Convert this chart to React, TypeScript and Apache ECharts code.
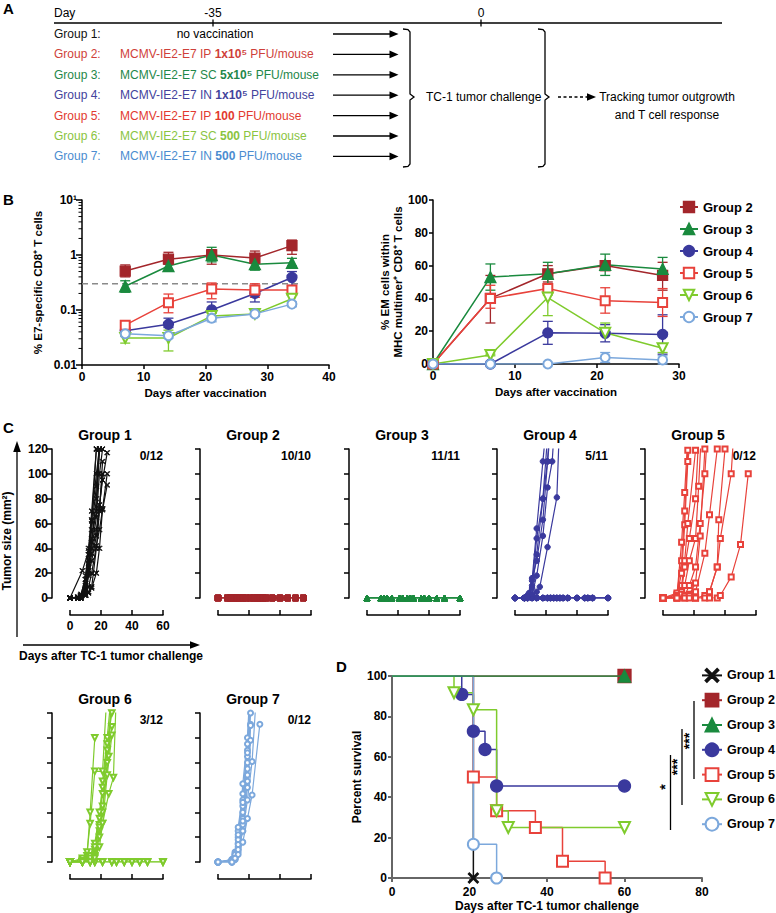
import React, { useEffect, useRef } from "react";
import * as echarts from "echarts";

const FONT = '"Liberation Sans", Arial, Helvetica, sans-serif';

const GROUP_NAMES = ["Group 1", "Group 2", "Group 3", "Group 4", "Group 5", "Group 6", "Group 7"];
const MARK_COLORS = ["#111111", "#a3262b", "#1a8a3e", "#3a399d", "#e8423b", "#7fcb2d", "#7ca8dc"];
const TEXT_COLORS = ["#111111", "#cf3f3a", "#1f874a", "#43439c", "#e23a30", "#8ac43f", "#4b8cd0"];

// ---------- Panel A ----------
const A_TIMELINE_TICKS = ["-35", "0"];
const A_ROUTES = ["", "IP", "SC", "IN", "IP", "SC", "IN"];
const A_DOSES = ["", "1x10⁵", "5x10⁵", "1x10⁵", "100", "500", "500"];

// ---------- Panel B (left): % E7-specific CD8+ T cells, [mean, low, high] ----------
const B1_DAYS = [7, 14, 21, 28, 34];
const B1_G2 = [[0.51, 0.4, 0.66], [0.84, 0.68, 1.12], [1.0, 0.68, 1.25], [0.88, 0.7, 1.18], [1.48, 1.03, 1.87]];
const B1_G3 = [[0.27, 0.21, 0.34], [0.63, 0.52, 0.75], [1.0, 0.75, 1.38], [0.68, 0.53, 0.81], [0.72, 0.63, 0.87]];
const B1_G4 = [[0.042, 0.038, 0.048], [0.055, 0.048, 0.071], [0.1, 0.071, 0.14], [0.2, 0.14, 0.28], [0.39, 0.28, 0.5]];
const B1_G5 = [[0.053, 0.048, 0.06], [0.136, 0.089, 0.195], [0.24, 0.16, 0.31], [0.23, 0.17, 0.3], [0.23, 0.2, 0.26]];
const B1_G6 = [[0.031, 0.025, 0.034], [0.031, 0.018, 0.043], [0.078, 0.071, 0.087], [0.085, 0.078, 0.093], [0.16, 0.136, 0.19]];
const B1_G7 = [[0.037, 0.033, 0.04], [0.034, 0.031, 0.038], [0.071, 0.061, 0.078], [0.085, 0.078, 0.089], [0.128, 0.115, 0.14]];
const B1_THRESHOLD = 0.3;
const B1_THRESHOLD_SPAN = [0, 35];
const B1_MINOR_TICKS = [0.02, 0.03, 0.04, 0.05, 0.06, 0.07, 0.08, 0.09, 0.2, 0.3, 0.4, 0.5, 0.6, 0.7, 0.8, 0.9, 2, 3, 4, 5, 6, 7, 8, 9];
const B1_Y_LABELS = { 10: "10¹", 1: "1", 0.1: "0.1", 0.01: "0.01" };

// ---------- Panel B (right): % EM cells, [mean, low, high] ----------
const B2_DAYS = [0, 7, 14, 21, 28];
const B2_G2 = [[0, 0, 0], [40, 25, 54], [55, 50, 60], [60, 57, 63], [54, 45, 62]];
const B2_G3 = [[0, 0, 0], [53, 45, 61], [55, 48, 62], [60.5, 54, 67], [58, 52, 65]];
const B2_G4 = [[0, 0, 0], [0, 0, 0], [19, 12, 26], [18.7, 13.5, 24], [18, 6, 30]];
const B2_G5 = [[0, 0, 0], [40, 34, 48], [46, 44, 48], [38.5, 31, 46.5], [37.5, 29, 46]];
const B2_G6 = [[0, 0, 0], [5.5, 5, 6], [40.5, 29.5, 42], [19, 18, 25], [9.6, 7, 12]];
const B2_G7 = [[0, 0, 0], [0, 0, 0], [0, 0, 0], [4, 1, 7], [2.5, 0, 5]];

// ---------- Panel C: individual tumor growth, [day, mm²] ----------
const C_G1_MICE = [
  [[0, 0], [8, 22], [12, 38], [14, 62], [17, 120]],
  [[0, 0], [5, 0], [7, 1], [10, 10], [12, 30], [14, 55], [17, 90], [19, 125]],
  [[0, 0], [5, 0], [7, 3], [10, 15], [12, 35], [14, 63], [17, 100], [19, 120]],
  [[0, 0], [5, 0], [7, 0], [10, 8], [12, 25], [14, 48], [17, 70], [19, 120]],
  [[0, 0], [5, 0], [7, 2], [10, 12], [12, 28], [14, 40], [17, 65], [19, 100], [21, 120]],
  [[0, 0], [5, 1], [7, 2], [10, 5], [12, 20], [14, 36], [17, 55], [19, 75], [21, 95], [24, 117]],
  [[0, 0], [5, 0], [7, 0], [10, 3], [12, 18], [14, 30], [17, 50], [19, 72], [21, 100]],
  [[0, 0], [5, 0], [7, 1], [10, 4], [12, 9], [14, 20], [17, 42], [19, 55], [21, 71], [24, 91]],
  [[0, 0], [5, 0], [7, 0], [10, 2], [12, 5], [14, 9], [17, 40], [19, 70], [21, 110]],
  [[0, 0], [5, 0], [7, 0], [10, 6], [12, 22], [14, 45], [17, 80], [19, 120]],
  [[0, 0], [5, 0], [7, 1], [10, 18], [12, 40], [14, 70], [17, 120]],
  [[0, 0], [7, 0], [10, 2], [12, 4], [14, 8], [17, 20], [19, 40], [21, 72], [24, 100]],
];
const C_G2_DAYS = [0, 6, 8, 10, 12, 14, 16, 18, 21, 23, 25, 27, 29, 31, 35, 40, 45, 50, 55];
const C_G2_SIZES = [0, 0, 0, 0, 0, 0, 0, 0, 0, 0, 0, 0, 0, 0, 0, 0, 0, 0, 0];
const C_G2_COUNT = 10;
const C_G3_DAYS = [0, 9, 11, 13, 16, 21, 23, 26, 28, 30, 35, 37, 40, 45, 50, 60];
const C_G3_SIZES = [0, 0, 0, 0, 0, 0, 0, 0, 0, 0, 0, 0, 0, 0, 0, 0];
const C_G3_COUNT = 11;
const C_G4_FREE_DAYS = [0, 6, 8, 11, 14, 18, 21, 23, 25, 27, 29, 31, 34, 40, 45, 47, 50, 60];
const C_G4_FREE_SIZES = [0, 0, 0, 0, 0, 0, 0, 0, 0, 0, 0, 0, 0, 0, 0, 0, 0, 0];
const C_G4_FREE_COUNT = 5;
const C_G4_MICE = [
  [[0, 0], [6, 0], [8, 1], [11, 14], [14, 56], [18, 110], [21, 150]],
  [[0, 0], [6, 0], [8, 2], [11, 10], [14, 48], [18, 80], [21, 130]],
  [[0, 0], [6, 0], [9, 4], [11, 16], [14, 30], [18, 63], [21, 110], [23, 150]],
  [[0, 0], [6, 0], [8, 0], [11, 2], [14, 5], [16, 9], [21, 41], [27, 81], [29, 150]],
  [[0, 0], [6, 0], [8, 0], [11, 3], [14, 18], [18, 50], [21, 89], [24, 110], [26, 150]],
  [[0, 0], [6, 0], [8, 1], [11, 8], [14, 35], [18, 80], [21, 110], [24, 150]],
];
const C_G5_MICE = [
  [[0, 0], [9, 3], [12, 20], [14, 59], [16, 110], [19, 140]],
  [[0, 0], [9, 4], [12, 30], [14, 70], [16, 119], [18, 140]],
  [[0, 0], [9, 2], [12, 45], [14, 85], [16, 130]],
  [[0, 0], [9, 0], [12, 10], [14, 30], [16, 60], [21, 119]],
  [[0, 0], [9, 1], [12, 5], [14, 25], [17, 48], [21, 80], [23, 130]],
  [[0, 0], [9, 0], [12, 3], [14, 10], [17, 30], [21, 48], [23, 90], [25, 140]],
  [[0, 0], [9, 0], [14, 2], [17, 10], [21, 25], [24, 60], [27, 100], [29, 140]],
  [[0, 0], [9, 0], [14, 0], [17, 3], [21, 12], [24, 50], [27, 120]],
  [[0, 0], [14, 0], [17, 2], [21, 5], [27, 36], [30, 67], [35, 120]],
  [[0, 0], [17, 0], [21, 0], [27, 2], [30, 5], [35, 25], [36, 63], [40, 120]],
  [[0, 0], [21, 0], [27, 0], [30, 5], [35, 25], [37, 48], [44, 100], [46, 140]],
  [[0, 0], [21, 0], [30, 0], [35, 0], [37, 2], [44, 17], [50, 43], [55, 100]],
];
const C_G6_FREE_DAYS = [0, 8, 13, 16, 21, 27, 30, 35, 40, 45, 50, 60];
const C_G6_FREE_SIZES = [0, 0, 0, 0, 0, 0, 0, 0, 0, 0, 0, 0];
const C_G6_FREE_COUNT = 3;
const C_G6_MICE = [
  [[0, 0], [8, 2], [11, 5], [13, 40], [16, 100]],
  [[0, 0], [8, 3], [11, 8], [13, 31], [16, 73], [21, 73], [24, 140]],
  [[0, 0], [8, 0], [13, 4], [16, 8], [19, 30], [21, 65], [24, 100], [27, 140]],
  [[0, 0], [8, 0], [13, 2], [16, 5], [19, 25], [21, 40], [24, 80], [27, 109]],
  [[0, 0], [8, 0], [13, 3], [16, 10], [19, 35], [21, 55], [24, 90], [27, 130]],
  [[0, 0], [8, 0], [13, 1], [16, 4], [19, 20], [21, 31], [24, 70], [27, 102]],
  [[0, 0], [8, 0], [13, 5], [16, 15], [19, 40], [21, 60], [24, 95], [27, 120]],
  [[0, 0], [8, 1], [13, 3], [16, 12], [19, 28], [21, 45], [25, 85], [27, 140]],
  [[0, 0], [8, 0], [13, 0], [16, 3], [19, 12], [21, 31], [25, 55], [28, 68], [30, 140]],
];
const C_G7_MICE = [
  [[0, 0], [9, 1], [11, 5], [13, 12], [16, 35], [19, 80], [21, 130]],
  [[0, 0], [9, 2], [11, 6], [13, 20], [16, 50], [19, 90], [21, 140]],
  [[0, 0], [9, 0], [11, 3], [13, 15], [16, 63], [19, 100], [21, 150]],
  [[0, 0], [9, 1], [11, 4], [13, 10], [16, 30], [19, 70], [21, 111]],
  [[0, 0], [9, 2], [11, 8], [13, 25], [16, 45], [19, 85], [21, 130]],
  [[0, 0], [9, 0], [11, 2], [13, 8], [16, 25], [19, 60], [21, 98]],
  [[0, 0], [9, 1], [11, 5], [13, 18], [16, 40], [19, 75], [21, 120]],
  [[0, 0], [9, 2], [11, 7], [13, 28], [16, 55], [19, 95], [21, 140]],
  [[0, 0], [9, 0], [11, 4], [13, 14], [16, 33], [19, 65], [21, 110]],
  [[0, 0], [9, 1], [11, 6], [13, 22], [16, 48], [19, 88], [21, 135]],
  [[0, 0], [9, 0], [11, 2], [13, 6], [16, 16], [19, 35], [22, 54], [27, 111]],
  [[0, 0], [9, 0], [11, 3], [13, 10], [16, 25], [19, 50], [22, 81], [25, 140]],
];
const C_TUMOR_FREE = ["0/12", "10/10", "11/11", "5/11", "0/12", "3/12", "0/12"];

// ---------- Panel D: Kaplan-Meier survival, [day, %] ----------
const D_G1 = [[0, 100], [21, 0]];
const D_G2 = [[0, 100], [60, 100]];
const D_G3 = [[0, 100], [60, 100]];
const D_G4 = [[0, 100], [18, 90.9], [21, 72.7], [24, 63.6], [27, 45.5], [60, 45.5]];
const D_G5 = [[0, 100], [21, 50], [27, 33.3], [37, 25], [44, 8.3], [55, 0]];
const D_G6 = [[0, 100], [16, 91.7], [21, 83.3], [27, 33.3], [30, 25], [60, 25]];
const D_G7 = [[0, 100], [21, 16.7], [27, 0]];
const D_SIGNIF = ["*", "***", "***"];

const X_PATH = "path://M1,0 L5,4 L9,0 L10,1 L6,5 L10,9 L9,10 L5,6 L1,10 L0,9 L4,5 L0,1 Z";
const SYMBOLS = [X_PATH, "rect", "triangle", "circle", "emptyRect", "emptyTriangle", "emptyCircle"];
const ROTATE = [0, 0, 0, 0, 0, 180, 0];

const bold = (size: number) => ({ fontFamily: FONT, fontWeight: "bold", fontSize: size, color: "#000" });

function axisBase(gridIndex: number, min: number, max: number, interval: number, color = "#000", width = 1.5) {
  return {
    gridIndex,
    type: "value",
    min,
    max,
    interval,
    axisLine: { show: true, onZero: false, lineStyle: { color, width } },
    axisTick: { show: true, length: 4, lineStyle: { color, width } },
    axisLabel: { ...bold(12), margin: 6 },
    splitLine: { show: false },
  };
}

function errRender(color: string) {
  return (params: any, api: any) => {
    const x = api.value(0);
    const a = api.coord([x, api.value(1)]);
    const b = api.coord([x, api.value(2)]);
    const w = 5;
    const style = { stroke: color, lineWidth: 1.3, fill: "none" };
    return {
      type: "group",
      children: [
        { type: "line", shape: { x1: a[0], y1: a[1], x2: b[0], y2: b[1] }, style },
        { type: "line", shape: { x1: a[0] - w, y1: a[1], x2: a[0] + w, y2: a[1] }, style },
        { type: "line", shape: { x1: b[0] - w, y1: b[1], x2: b[0] + w, y2: b[1] }, style },
      ],
    };
  };
}

function buildOption() {
  const grids: any[] = [];
  const xAxes: any[] = [];
  const yAxes: any[] = [];
  const series: any[] = [];
  const g: any[] = [];

  // grids
  grids.push({ left: 82, top: 200, width: 247, height: 165 });
  grids.push({ left: 433, top: 200, width: 246, height: 164 });
  const cLeft: number[] = [];
  const cTop: number[] = [];
  for (let i = 0; i < 7; i++) {
    const row = i < 5 ? 0 : 1;
    const col = i < 5 ? i : i - 5;
    const left = Math.round(70 + 148.3 * col);
    const top = row === 0 ? 449 : 713;
    cLeft.push(left);
    cTop.push(top);
    grids.push({ left, top, width: 93, height: 149 });
  }
  grids.push({ left: 392, top: 676, width: 310, height: 202 });

  // B left axes
  xAxes.push({
    ...axisBase(0, 0, 40, 10),
    name: "Days after vaccination",
    nameLocation: "middle",
    nameGap: 22,
    nameTextStyle: bold(11.5),
  });
  yAxes.push({
    ...axisBase(0, 0.01, 10, 1),
    type: "log",
    logBase: 10,
    interval: undefined,
    axisTick: { show: true, length: 6, lineStyle: { color: "#000", width: 1.5 } },
    axisLabel: { ...bold(12), margin: 5, formatter: (v: number) => (B1_Y_LABELS as any)[v] ?? String(v) },
    name: "% E7-specific CD8⁺ T cells",
    nameLocation: "middle",
    nameGap: 38,
    nameTextStyle: bold(11.5),
  });
  // B right axes
  xAxes.push({
    ...axisBase(1, 0, 30, 10),
    name: "Days after vaccination",
    nameLocation: "middle",
    nameGap: 22,
    nameTextStyle: bold(11.5),
  });
  yAxes.push({
    ...axisBase(1, 0, 100, 20),
    axisLabel: { ...bold(12), margin: 5 },
    name: "% EM cells within\nMHC multimer⁺ CD8⁺ T cells",
    nameLocation: "middle",
    nameGap: 18,
    nameTextStyle: { ...bold(11.5), lineHeight: 13 },
  });
  // C axes
  for (let i = 0; i < 7; i++) {
    const gi = 2 + i;
    xAxes.push({
      ...axisBase(gi, 0, 60, 20),
      offset: 17,
      axisTick: { show: true, inside: true, length: 5, lineStyle: { color: "#000", width: 1.5 } },
      axisLabel: { ...bold(12), margin: 5, show: i === 0 },
    });
    yAxes.push({
      ...axisBase(gi, 0, 120, 20),
      offset: 18,
      axisTick: { show: true, length: 5, lineStyle: { color: "#000", width: 1.5 } },
      axisLabel: { ...bold(12), margin: 4, show: i === 0 },
    });
  }
  // D axes
  xAxes.push({
    ...axisBase(9, 0, 80, 20, "#666", 2),
    axisLabel: { ...bold(12), margin: 8 },
    name: "Days after TC-1 tumor challenge",
    nameLocation: "middle",
    nameGap: 22,
    nameTextStyle: bold(12),
  });
  yAxes.push({
    ...axisBase(9, 0, 100, 20, "#666", 2),
    axisLabel: { ...bold(12), margin: 5 },
    name: "Percent survival",
    nameLocation: "middle",
    nameGap: 27,
    nameTextStyle: bold(12),
  });

  // ---- B series ----
  const b1 = [null, B1_G2, B1_G3, B1_G4, B1_G5, B1_G6, B1_G7];
  const b2 = [null, B2_G2, B2_G3, B2_G4, B2_G5, B2_G6, B2_G7];
  const bSizes = [0, 10, 11, 10, 9, 10, 9];
  series.push({
    type: "line",
    xAxisIndex: 0,
    yAxisIndex: 0,
    data: B1_THRESHOLD_SPAN.map((d) => [d, B1_THRESHOLD]),
    symbol: "none",
    silent: true,
    lineStyle: { color: "#8a8a8a", width: 1.6, type: [6, 4] },
    z: 1,
  });
  series.push({
    type: "custom",
    xAxisIndex: 0,
    yAxisIndex: 0,
    silent: true,
    clip: false,
    data: B1_MINOR_TICKS.map((v) => [0, v]),
    encode: { x: 0, y: 1 },
    renderItem: (p: any, api: any) => {
      const c = api.coord([0, api.value(1)]);
      return { type: "line", shape: { x1: c[0] - 3.5, y1: c[1], x2: c[0], y2: c[1] }, style: { stroke: "#000", lineWidth: 1 } };
    },
  });
  for (let k = 1; k < 7; k++) {
    const col = MARK_COLORS[k];
    const panels = [
      { arr: b1[k] as number[][], days: B1_DAYS, ax: 0 },
      { arr: b2[k] as number[][], days: B2_DAYS, ax: 1 },
    ];
    panels.forEach((pn) => {
      series.push({
        type: "custom",
        xAxisIndex: pn.ax,
        yAxisIndex: pn.ax,
        silent: true,
        data: pn.arr.map((v, j) => [pn.days[j], v[1], v[2]]).filter((v) => v[1] !== v[2]),
        encode: { x: 0, y: [1, 2] },
        renderItem: errRender(col),
        z: 2,
      });
      series.push({
        type: "line",
        name: pn.ax === 0 ? "B:" + GROUP_NAMES[k] : "B2:" + GROUP_NAMES[k],
        xAxisIndex: pn.ax,
        yAxisIndex: pn.ax,
        data: pn.arr.map((v, j) => [pn.days[j], v[0]]),
        symbol: SYMBOLS[k],
        symbolRotate: ROTATE[k],
        symbolSize: bSizes[k],
        lineStyle: { color: col, width: 1.5 },
        itemStyle: { color: col, borderColor: col, borderWidth: 1.3 },
        z: 3,
      });
    });
  }

  // ---- C series ----
  const zerosMice = (days: number[], sizes: number[], count: number) => {
    const out: number[][][] = [];
    for (let m = 0; m < count; m++) out.push(days.map((d, j) => [d, sizes[j]]));
    return out;
  };
  const cMice = [
    C_G1_MICE,
    zerosMice(C_G2_DAYS, C_G2_SIZES, C_G2_COUNT),
    zerosMice(C_G3_DAYS, C_G3_SIZES, C_G3_COUNT),
    [...zerosMice(C_G4_FREE_DAYS, C_G4_FREE_SIZES, C_G4_FREE_COUNT), ...C_G4_MICE],
    C_G5_MICE,
    [...zerosMice(C_G6_FREE_DAYS, C_G6_FREE_SIZES, C_G6_FREE_COUNT), ...C_G6_MICE],
    C_G7_MICE,
  ];
  const cSizes = [5, 5.5, 6, 5.5, 5, 5.5, 5];
  cMice.forEach((mice, i) => {
    const col = MARK_COLORS[i];
    mice.forEach((m) => {
      series.push({
        type: "line",
        xAxisIndex: 2 + i,
        yAxisIndex: 2 + i,
        data: m,
        symbol: SYMBOLS[i],
        symbolRotate: ROTATE[i],
        symbolSize: cSizes[i],
        silent: true,
        lineStyle: { color: col, width: 1.2, opacity: i === 1 || i === 2 ? 0.5 : 1 },
        itemStyle: { color: col, borderColor: col, borderWidth: 1 },
      });
    });
  });

  // ---- D series ----
  const dData = [D_G1, D_G2, D_G3, D_G4, D_G5, D_G6, D_G7];
  const dSizes = [10, 13, 12, 12, 11, 11, 11];
  const dZ = [3, 3, 6, 4, 4, 4, 4];
  dData.forEach((arr, i) => {
    const col = MARK_COLORS[i];
    series.push({
      type: "line",
      name: "D:" + GROUP_NAMES[i],
      xAxisIndex: 9,
      yAxisIndex: 9,
      step: "end",
      data: arr.map((p, j) => (j === 0 ? { value: p, symbol: "none" } : p)),
      symbol: SYMBOLS[i],
      symbolRotate: ROTATE[i],
      symbolSize: dSizes[i],
      lineStyle: { color: col, width: 1.5 },
      itemStyle: { color: col, borderColor: col, borderWidth: 1.3 },
      z: dZ[i],
    });
  });

  // ---- graphics ----
  const text = (x: number, y: number, t: string, size: number, o: any = {}) => {
    g.push({
      type: "text",
      x,
      y,
      rotation: o.rot || 0,
      silent: true,
      z: 10,
      style: {
        text: t,
        font: `${o.bold ? "bold " : ""}${size}px ${FONT}`,
        fill: o.color || "#000",
        textAlign: o.align || "left",
        align: o.align || "left",
        textVerticalAlign: "middle",
        verticalAlign: "middle",
        rich: o.rich,
      },
    });
  };
  const line = (x1: number, y1: number, x2: number, y2: number, w = 1.3, dash?: number[], color = "#000") =>
    g.push({ type: "line", silent: true, shape: { x1, y1, x2, y2 }, style: { stroke: color, lineWidth: w, lineDash: dash } });
  const poly = (pts: number[][]) => g.push({ type: "polygon", silent: true, shape: { points: pts }, style: { fill: "#000" } });
  const polyline = (pts: number[][]) =>
    g.push({ type: "polyline", silent: true, shape: { points: pts }, style: { stroke: "#000", lineWidth: 1.3, fill: null } });

  // panel letters
  text(3, 8, "A", 15, { bold: true });
  text(3, 199, "B", 15, { bold: true });
  text(3, 427, "C", 15, { bold: true });
  text(336, 666, "D", 15, { bold: true });

  // Panel A
  line(54, 23, 722, 23, 1.3);
  text(54, 13, "Day", 12);
  const tickX = [213, 481];
  A_TIMELINE_TICKS.forEach((t, i) => {
    line(tickX[i], 19.5, tickX[i], 26.5, 1.3);
    text(tickX[i], 13, t, 12, { align: "center" });
  });
  for (let i = 0; i < 7; i++) {
    const y = 34 + 20.4 * i;
    text(54, y, GROUP_NAMES[i] + ":", 12, { color: TEXT_COLORS[i] });
    if (i === 0) {
      text(215, y, "no vaccination", 12, { align: "center" });
    } else {
      const c = TEXT_COLORS[i];
      text(120, y, `{n|MCMV-IE2-E7 ${A_ROUTES[i]} }{b|${A_DOSES[i]}}{n| PFU/mouse}`, 12, {
        color: c,
        rich: {
          n: { fill: c, color: c, fontFamily: FONT, fontSize: 12 },
          b: { fill: c, color: c, fontFamily: FONT, fontSize: 12, fontWeight: "bold" },
        },
      });
    }
    line(333, y, 392, y, 1.3);
    poly([[389.5, y - 3.8], [398.5, y], [389.5, y + 3.8]]);
  }
  polyline([[403, 29], [408, 29.6], [410, 32], [410, 94], [414, 97], [410, 100], [410, 164], [408, 166.4], [403, 167]]);
  text(426, 97, "TC-1 tumor challenge", 12);
  polyline([[538, 29], [543, 29.6], [545, 32], [545, 94], [549, 97], [545, 100], [545, 164], [543, 166.4], [538, 167]]);
  line(558, 97, 590, 97, 1.3, [3, 2.5]);
  poly([[587, 93.2], [596, 97], [587, 100.8]]);
  text(667, 97, "Tracking tumor outgrowth", 12, { align: "center" });
  text(667, 115, "and T cell response", 12, { align: "center" });

  // Panel C annotations
  for (let i = 0; i < 7; i++) {
    const axisX = cLeft[i] - 18;
    const top = cTop[i];
    text(axisX + 53, top - 14, GROUP_NAMES[i], 14, { bold: true, align: "center" });
    text(axisX + 111, top + 7, C_TUMOR_FREE[i], 12, { bold: true, align: "right" });
  }
  text(7, 541, "Tumor size (mm²)", 12, { bold: true, align: "center", rot: Math.PI / 2 });
  line(17, 637, 17, 450, 1.3);
  poly([[13.2, 452], [17, 441], [20.8, 452]]);
  line(23, 645, 192, 645, 1.3);
  poly([[190, 641.2], [200, 645], [190, 648.8]]);
  text(111, 656, "Days after TC-1 tumor challenge", 12, { bold: true, align: "center" });

  // Panel D significance bars
  line(670.5, 755, 670.5, 830, 1.3);
  text(665, 787, D_SIGNIF[0], 14, { bold: true, align: "center", rot: Math.PI / 2 });
  line(682, 729, 682, 805, 1.3);
  text(676.5, 767, D_SIGNIF[1], 14, { bold: true, align: "center", rot: Math.PI / 2 });
  line(694, 701, 694, 779, 1.3);
  text(688.5, 741, D_SIGNIF[2], 14, { bold: true, align: "center", rot: Math.PI / 2 });

  return {
    animation: false,
    backgroundColor: "#fff",
    textStyle: { fontFamily: FONT },
    grid: grids.map((gr) => ({ ...gr, containLabel: false, outerBoundsMode: "none" })),
    xAxis: xAxes,
    yAxis: yAxes,
    legend: [
      {
        orient: "vertical",
        left: 679,
        top: 200.5,
        padding: 0,
        itemWidth: 18,
        itemHeight: 13,
        itemGap: 9,
        selectedMode: false,
        data: GROUP_NAMES.slice(1).map((n) => "B:" + n),
        formatter: (n: string) => n.replace(/^B:/, ""),
        textStyle: { ...bold(13), padding: [0, 0, 0, 0], overflow: "none" },
      },
      {
        orient: "vertical",
        left: 701,
        top: 668,
        padding: 0,
        itemWidth: 20,
        itemHeight: 16,
        itemGap: 10,
        itemStyle: {},
        selectedMode: false,
        data: GROUP_NAMES.map((n) => "D:" + n),
        formatter: (n: string) => n.replace(/^D:/, ""),
        textStyle: { ...bold(12.5), overflow: "none" },
      },
    ],
    series,
    graphic: g,
  };
}

export default function App() {
  const ref = useRef<HTMLDivElement>(null);
  useEffect(() => {
    document.body.style.margin = "0";
    const chart = echarts.init(ref.current as HTMLDivElement, null, { renderer: "svg", width: 776, height: 913 });
    chart.setOption(buildOption() as any);
    return () => chart.dispose();
  }, []);
  return <div ref={ref} style={{ width: 776, height: 913 }} />;
}
